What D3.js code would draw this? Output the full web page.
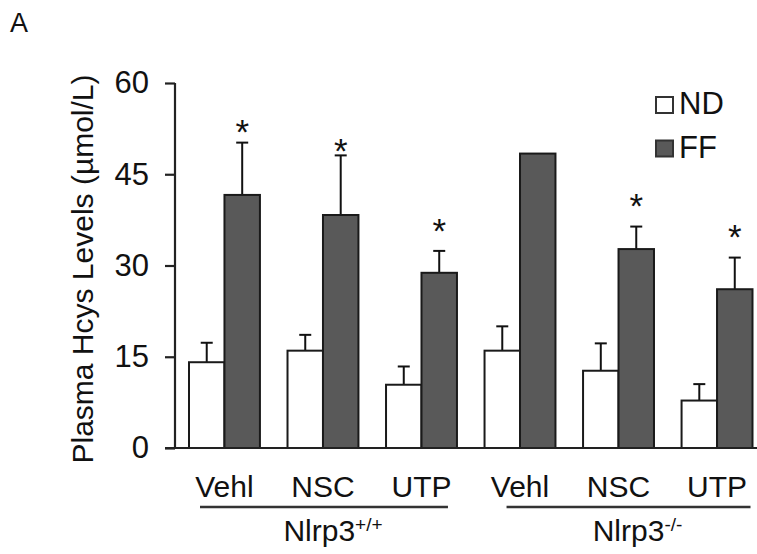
<!DOCTYPE html>
<html>
<head>
<meta charset="utf-8">
<script src="https://cdn.jsdelivr.net/npm/d3@7"></script>
<style>
  html, body { margin: 0; padding: 0; background: #fff; }
  svg { display: block; }
  text { font-family: "Liberation Sans", Arial, sans-serif; fill: #111; }
</style>
</head>
<body>
<svg id="chart" width="757" height="554"></svg>
<script>
// ---- data ----
const treatments = ["Vehl", "NSC", "UTP", "Vehl", "NSC", "UTP"];
const ndValues   = [14.1, 16.0, 10.4, 16.0, 12.7, 7.8];
const ndErrors   = [3.2, 2.6, 3.0, 4.0, 4.5, 2.7];
const ffValues   = [41.6, 38.3, 28.8, 48.4, 32.7, 26.1];
const ffErrors   = [8.6, 9.8, 3.6, 0, 3.7, 5.2];
const starLevels = [53.4, 50.3, 37.2, null, 41.3, 36.1];
const genotypes  = [{name: "Nlrp3", sup: "+/+", members: [0, 1, 2]},
                    {name: "Nlrp3", sup: "-/-", members: [3, 4, 5]}];
const seriesNames = ["ND", "FF"];
const seriesFill  = ["#ffffff", "#595959"];
const yTicks = [0, 15, 30, 45, 60];
const yLabel = "Plasma Hcys Levels (\u00b5mol/L)";
const panelLabel = "A";

// ---- layout ----
const svg = d3.select("#chart");
const W = 757, H = 554;
const axisX = 175, plotTop = 83, plotBottom = 448;

const y = d3.scaleLinear().domain([0, 60]).range([plotBottom, plotTop]);
const x = d3.scaleBand().domain(d3.range(treatments.length))
  .range([189, 752.5]).paddingInner(0.28).paddingOuter(0);
const xs = d3.scaleBand().domain(seriesNames).range([0, x.bandwidth()]);

svg.append("rect").attr("width", W).attr("height", H).attr("fill", "#fff");

// panel label
svg.append("text").attr("x", 10).attr("y", 32)
  .attr("font-size", 27).text(panelLabel);

// bars
const data = treatments.map((t, i) => ({
  i, t,
  vals: [{s: "ND", v: ndValues[i], e: ndErrors[i]}, {s: "FF", v: ffValues[i], e: ffErrors[i]}]
}));

const g = svg.append("g");
const grp = g.selectAll("g.grp").data(data).join("g")
  .attr("transform", d => `translate(${x(d.i)},0)`);

// error bars (behind bars)
grp.selectAll("g.err").data(d => d.vals.filter(v => v.e > 0)).join("g").each(function(d) {
  const cx = xs(d.s) + xs.bandwidth() / 2;
  const sel = d3.select(this);
  sel.append("line").attr("x1", cx).attr("x2", cx)
    .attr("y1", y(d.v)).attr("y2", y(d.v + d.e))
    .attr("stroke", "#111").attr("stroke-width", 2);
  sel.append("line").attr("x1", cx - 6).attr("x2", cx + 6)
    .attr("y1", y(d.v + d.e)).attr("y2", y(d.v + d.e))
    .attr("stroke", "#111").attr("stroke-width", 2);
});

grp.selectAll("rect").data(d => d.vals).join("rect")
  .attr("x", d => xs(d.s))
  .attr("y", d => y(d.v))
  .attr("width", xs.bandwidth())
  .attr("height", d => y(0) - y(d.v))
  .attr("fill", (d, j) => seriesFill[seriesNames.indexOf(d.s)])
  .attr("stroke", "#1a1a1a").attr("stroke-width", 2);

// stars
grp.filter(d => starLevels[d.i] !== null).append("text")
  .attr("x", xs("FF") + xs.bandwidth() / 2)
  .attr("y", d => y(starLevels[d.i]) + 21)
  .attr("text-anchor", "middle")
  .attr("font-size", 35)
  .text("*");

// y axis
const yAxis = d3.axisLeft(y).tickValues(yTicks).tickSize(10).tickPadding(16).tickSizeOuter(0);
const ya = svg.append("g").attr("transform", `translate(${axisX},0)`).call(yAxis);
ya.select(".domain").attr("stroke", "#222").attr("stroke-width", 2.2)
  .attr("d", `M0,${plotTop}V${plotBottom}`);
ya.selectAll(".tick line").attr("stroke", "#222").attr("stroke-width", 2.2);
ya.selectAll(".tick text").attr("font-size", 31).attr("fill", "#111")
  .attr("font-family", "Liberation Sans, Arial, sans-serif");

// x baseline
svg.append("line").attr("x1", axisX - 10).attr("x2", W)
  .attr("y1", y(0)).attr("y2", y(0))
  .attr("stroke", "#222").attr("stroke-width", 2.2);

// category labels
svg.selectAll("text.cat").data(data).join("text").attr("class", "cat")
  .attr("x", d => x(d.i) + x.bandwidth() / 2)
  .attr("y", 497)
  .attr("text-anchor", "middle")
  .attr("font-size", 30)
  .text(d => d.t);

// genotype underlines and labels
const ulPad = [[11, 9], [22, 2]];
genotypes.forEach((gt, k) => {
  const first = gt.members[0], last = gt.members[gt.members.length - 1];
  const x1 = x(first) + ulPad[k][0];
  const x2 = x(last) + x.bandwidth() - ulPad[k][1];
  svg.append("line").attr("x1", x1).attr("x2", x2)
    .attr("y1", 507).attr("y2", 507)
    .attr("stroke", "#333").attr("stroke-width", 2.5);
  const t = svg.append("text")
    .attr("x", (x1 + x2) / 2 + 9).attr("y", 541)
    .attr("text-anchor", "middle").attr("font-size", 30);
  t.append("tspan").text(gt.name);
  t.append("tspan").attr("font-size", 19).attr("dy", -10).text(gt.sup);
});

// y label
svg.append("text")
  .attr("transform", `translate(93,269) rotate(-90)`)
  .attr("text-anchor", "middle")
  .attr("font-size", 30)
  .text(yLabel);

// legend
const leg = svg.append("g");
seriesNames.forEach((s, k) => {
  const ly = 97 + k * 43.5;
  leg.append("rect").attr("x", 656).attr("y", ly).attr("width", 17).attr("height", 16)
    .attr("fill", seriesFill[k]).attr("stroke", "#333").attr("stroke-width", 2);
  leg.append("text").attr("x", 679).attr("y", ly + 17)
    .attr("font-size", 31).text(s);
});
</script>
</body>
</html>
